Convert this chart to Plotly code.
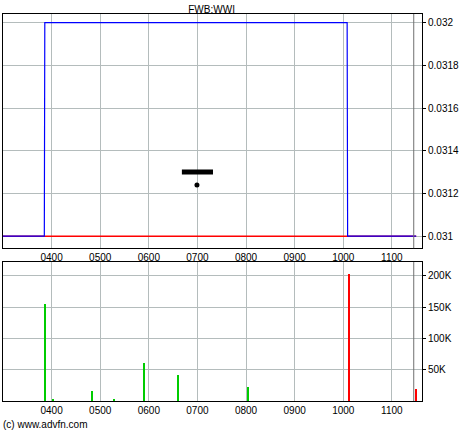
import plotly.graph_objects as go

# price steps (decimal hours)
price_t = [3.0, 3.85, 3.86, 10.08, 10.09, 11.5]
price_v = [0.031, 0.031, 0.032, 0.032, 0.031, 0.031]
prev_close = 0.031

# volume bars
vol_t = [3.87, 4.03, 4.83, 5.28, 5.9, 6.6, 8.05, 10.12, 11.5]
vol_v = [155000, 2000, 16000, 3000, 60000, 42000, 22000, 203000, 19000]
vol_c = ['#00cc00'] * 7 + ['#ff0000'] * 2

hours = [4, 5, 6, 7, 8, 9, 10, 11]
hour_labels = ['0400', '0500', '0600', '0700', '0800', '0900', '1000', '1100']

fig = go.Figure()
fig.add_scatter(x=[3.0, 11.5], y=[prev_close, prev_close], mode='lines',
                line=dict(color='red', width=1.5), xaxis='x', yaxis='y')
fig.add_scatter(x=price_t, y=price_v, mode='lines',
                line=dict(color='blue', width=1.2), xaxis='x', yaxis='y')
# current marker
fig.add_scatter(x=[6.68, 7.32], y=[0.0313, 0.0313], mode='lines',
                line=dict(color='black', width=5), xaxis='x', yaxis='y')
fig.add_scatter(x=[6.99], y=[0.03124], mode='markers',
                marker=dict(color='black', size=5, symbol='circle'), xaxis='x', yaxis='y')

fig.add_bar(x=vol_t, y=vol_v, marker=dict(color=vol_c, line_width=0),
            width=0.025, xaxis='x2', yaxis='y2')

ax = dict(range=[3.0, 11.62], tickvals=hours, ticktext=hour_labels,
          showgrid=True, gridcolor='#b4bcbc', gridwidth=1, zeroline=False,
          showline=True, linecolor='black', mirror=True, ticks='',
          tickfont=dict(size=10, color='black'))
fig.update_layout(
    width=460, height=430,
    margin=dict(l=3, r=38, t=14, b=29, autoexpand=False),
    paper_bgcolor='white', plot_bgcolor='white',
    showlegend=False, bargap=0,
    font=dict(family='Liberation Sans, Arial', size=10, color='black'),
    title=dict(text='FWB:WWI', x=0.46, y=0.985, xanchor='center',
               font=dict(size=10)),
    xaxis=dict(ax, domain=[0, 1], anchor='y'),
    xaxis2=dict(ax, domain=[0, 1], anchor='y2'),
    yaxis=dict(domain=[0.395, 1], range=[0.030944, 0.03204], side='right',
               tickvals=[0.031, 0.0312, 0.0314, 0.0316, 0.0318, 0.032],
               ticktext=['0.031', '0.0312', '0.0314', '0.0316', '0.0318', '0.032'],
               showgrid=True, gridcolor='#b4bcbc', zeroline=False,
               showline=True, linecolor='black', mirror=True,
               ticks='outside', ticklen=3, tickcolor='black', anchor='x'),
    yaxis2=dict(domain=[0, 0.359], range=[0, 222000], side='right',
                tickvals=[50000, 100000, 150000, 200000],
                ticktext=['50K', '100K', '150K', '200K'],
                showgrid=True, gridcolor='#b4bcbc', zeroline=False,
                showline=True, linecolor='black', mirror=True,
                ticks='outside', ticklen=3, tickcolor='black', anchor='x2'),
)
# end-of-session marker lines
for ya in ['y', 'y2']:
    fig.add_shape(type='line', xref='x' if ya == 'y' else 'x2', yref=ya + ' domain',
                  x0=11.45, x1=11.45, y0=0, y1=1, line=dict(color='#707070', width=1))
fig.add_annotation(text='(c) www.advfn.com', xref='paper', yref='paper',
                   x=-0.005, y=-0.06, xanchor='left', yanchor='middle',
                   showarrow=False, font=dict(size=10, family='Liberation Sans'))

fig.write_html("out.html", config={'displayModeBar': False},
               post_script="document.body.style.margin='0';")
